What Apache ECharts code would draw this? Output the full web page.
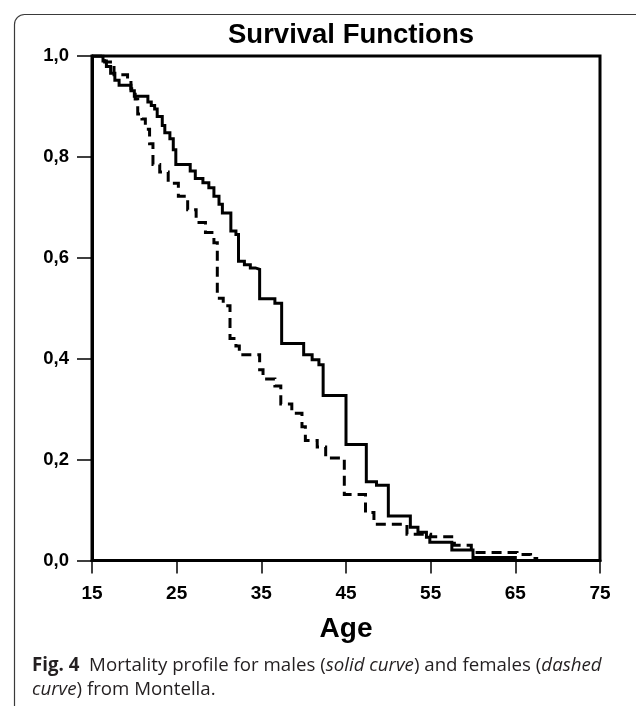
<!DOCTYPE html>
<html>
<head>
<meta charset="utf-8">
<title>Survival Functions</title>
<script src="https://cdn.jsdelivr.net/npm/echarts@6/dist/echarts.min.js"></script>
<style>
  html, body { margin: 0; padding: 0; background: #fff; }
  #chart { width: 636px; height: 706px; }
</style>
</head>
<body>
<div id="chart"></div>
<script>
// Kaplan–Meier survival by age: [age at event, survival after the event]
var maleSurvival = [
  [15.0, 1.000], [16.3, 0.990], [16.7, 0.979], [17.2, 0.966], [17.7, 0.952],
  [18.2, 0.942], [19.6, 0.931], [20.0, 0.920], [21.6, 0.909], [22.0, 0.902],
  [22.4, 0.895], [22.7, 0.880], [23.3, 0.862], [23.6, 0.848], [24.2, 0.836],
  [24.6, 0.814], [24.9, 0.785], [26.6, 0.772], [27.2, 0.757], [28.1, 0.749],
  [28.8, 0.739], [29.4, 0.722], [30.0, 0.706], [30.4, 0.689], [31.4, 0.653],
  [32.0, 0.646], [32.3, 0.593], [33.0, 0.586], [33.7, 0.580], [34.3, 0.577],
  [34.8, 0.519], [36.6, 0.510], [37.4, 0.430], [40.0, 0.408], [41.0, 0.398],
  [41.8, 0.388], [42.3, 0.327], [45.0, 0.230], [47.4, 0.156], [48.6, 0.149],
  [50.0, 0.088], [52.6, 0.066], [53.5, 0.056], [54.5, 0.046], [54.9, 0.036],
  [57.5, 0.021], [60.0, 0.006], [65.0, 0.000]
];

var femaleSurvival = [
  [15.0, 1.000], [16.5, 0.988], [17.6, 0.963], [19.2, 0.952], [19.6, 0.935],
  [20.1, 0.915], [20.4, 0.885], [20.9, 0.875], [21.3, 0.855], [21.8, 0.826],
  [22.2, 0.785], [23.0, 0.770], [24.0, 0.748], [25.2, 0.722], [26.3, 0.695],
  [27.3, 0.670], [28.4, 0.650], [29.4, 0.630], [29.8, 0.520], [30.5, 0.505],
  [31.3, 0.440], [32.0, 0.425], [32.4, 0.408], [34.8, 0.378], [35.2, 0.360],
  [36.6, 0.346], [37.3, 0.310], [38.6, 0.292], [39.8, 0.265], [40.2, 0.238],
  [41.6, 0.225], [42.6, 0.203], [44.8, 0.131], [47.3, 0.095], [48.3, 0.072],
  [52.2, 0.052], [55.0, 0.047], [57.8, 0.030], [59.8, 0.016], [65.2, 0.012],
  [66.8, 0.004], [67.7, 0.004]
];

var ageTicks = [15, 25, 35, 45, 55, 65, 75];
var survivalTicks = [0, 0.2, 0.4, 0.6, 0.8, 1.0];
var survivalTickLabels = ['0,0', '0,2', '0,4', '0,6', '0,8', '1,0'];

var chart = echarts.init(document.getElementById('chart'), null, { renderer: 'canvas' });

var axisFont = { fontFamily: 'Liberation Sans, Arial, sans-serif', fontWeight: 'bold', color: '#000' };
var captionFont = 'Open Sans, sans-serif';

chart.setOption({
  animation: false,
  backgroundColor: '#fff',
  title: {
    text: 'Survival Functions',
    left: 346,
    top: 16,
    textAlign: 'center',
    textStyle: {
      fontFamily: axisFont.fontFamily,
      fontWeight: 'bold',
      fontSize: 27.5,
      color: '#000'
    }
  },
  grid: {
    left: 92,
    right: 36,
    top: 56,
    bottom: 145.5,
    show: true,
    borderColor: '#000',
    borderWidth: 3,
    backgroundColor: 'transparent'
  },
  xAxis: {
    type: 'value',
    min: 15,
    max: 75,
    name: 'Age',
    nameLocation: 'middle',
    nameGap: 55,
    nameTextStyle: Object.assign({ fontSize: 28 }, axisFont),
    splitLine: { show: false },
    axisLine: { show: true, onZero: false, lineStyle: { color: '#000', width: 3 } },
    axisTick: {
      show: true,
      length: 13,
      customValues: ageTicks,
      lineStyle: { color: '#000', width: 1.5 }
    },
    axisLabel: Object.assign({
      fontSize: 19,
      margin: 24,
      customValues: ageTicks,
      formatter: function (v) { return String(v); }
    }, axisFont)
  },
  yAxis: {
    type: 'value',
    min: 0,
    max: 1,
    splitLine: { show: false },
    axisLine: { show: true, onZero: false, lineStyle: { color: '#000', width: 3 } },
    axisTick: {
      show: true,
      length: 15,
      customValues: survivalTicks,
      lineStyle: { color: '#000', width: 1.5 }
    },
    axisLabel: Object.assign({
      fontSize: 18.5,
      margin: 23,
      customValues: survivalTicks,
      formatter: function (v) {
        var i = survivalTicks.findIndex(function (t) { return Math.abs(t - v) < 1e-9; });
        return i >= 0 ? survivalTickLabels[i] : '';
      }
    }, axisFont)
  },
  series: [
    {
      name: 'Males',
      type: 'line',
      step: 'end',
      data: maleSurvival,
      showSymbol: false,
      lineStyle: { color: '#000', width: 3, cap: 'butt', join: 'miter' },
      z: 3
    },
    {
      name: 'Females',
      type: 'line',
      step: 'end',
      data: femaleSurvival,
      showSymbol: false,
      lineStyle: { color: '#000', width: 3, type: [10, 6], cap: 'butt', join: 'miter' },
      z: 2
    }
  ],
  graphic: [
    {
      type: 'rect',
      shape: { x: 14.5, y: 14.5, width: 700, height: 800, r: 10 },
      style: { fill: 'none', stroke: '#3a3a3a', lineWidth: 1.2 },
      z: -1
    },
    {
      type: 'text',
      left: 32,
      top: 654,
      style: {
        text: '{b|Fig. 4}  Mortality profile for males ({i|solid curve}) and females ({i|dashed}\n{i|curve}) from Montella.',
        fontFamily: captionFont,
        fontSize: 18.7,
        lineHeight: 24,
        fill: '#231f20',
        rich: {
          b: { fontFamily: captionFont, fontWeight: 'bold', fontSize: 18.7, fill: '#231f20', lineHeight: 24 },
          i: { fontFamily: captionFont, fontStyle: 'italic', fontSize: 18.7, fill: '#231f20', lineHeight: 24 }
        }
      }
    }
  ]
});
</script>
</body>
</html>
